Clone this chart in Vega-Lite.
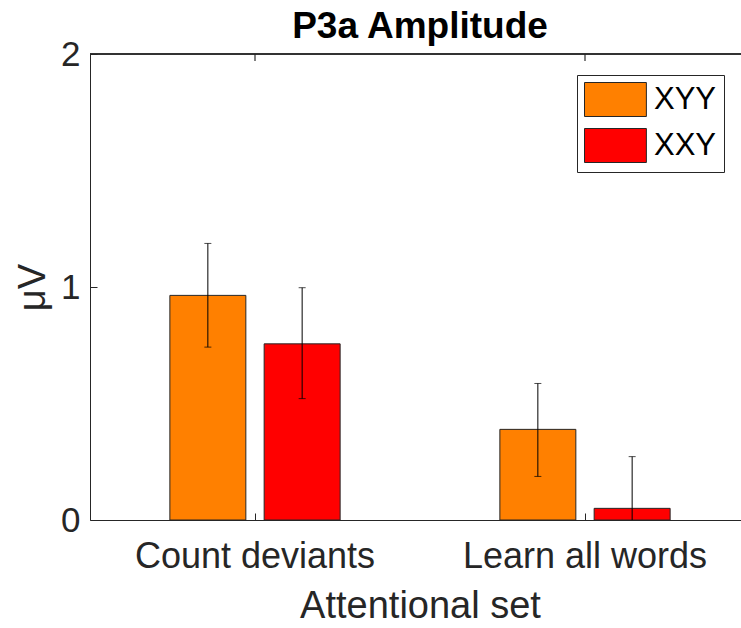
{
  "$schema": "https://vega.github.io/schema/vega-lite/v6.json",
  "width": 651,
  "height": 466,
  "autosize": "none",
  "padding": {"left": 90, "top": 54, "right": 0, "bottom": 108},
  "background": "white",
  "config": {
    "view": {"stroke": null},
    "font": "Liberation Sans",
    "axis": {
      "domainColor": "#262626",
      "tickColor": "#262626",
      "labelColor": "#262626",
      "titleColor": "#262626",
      "labelFont": "Liberation Sans",
      "titleFont": "Liberation Sans",
      "titleFontWeight": "normal",
      "labelLimit": 0,
      "labelOverlap": false,
      "labelFlush": false,
      "grid": false
    }
  },
  "title": {
    "text": "P3a Amplitude",
    "font": "Liberation Sans",
    "fontSize": 37,
    "fontWeight": "bold",
    "color": "#000000",
    "dx": 4.5,
    "offset": -9
  },
  "data": {
    "values": [
      {"set": "Count deviants", "group": "XYY", "value": 0.964, "lo": 0.742, "hi": 1.187},
      {"set": "Count deviants", "group": "XXY", "value": 0.756, "lo": 0.521, "hi": 0.997},
      {"set": "Learn all words", "group": "XYY", "value": 0.389, "lo": 0.187, "hi": 0.586},
      {"set": "Learn all words", "group": "XXY", "value": 0.050, "lo": -0.172, "hi": 0.272}
    ]
  },
  "layer": [
    {
      "mark": {"type": "bar", "stroke": "#262626", "strokeWidth": 1},
      "encoding": {
        "x": {
          "field": "set",
          "type": "nominal",
          "sort": null,
          "scale": {"range": [0, 660], "paddingInner": 0, "paddingOuter": 0},
          "axis": {
            "title": "Attentional set",
            "titleFontSize": 38,
            "titlePadding": 13,
            "labelFontSize": 36,
            "labelAngle": 0,
            "labelPadding": 26,
            "tickSize": -7,
            "domainWidth": 1
          }
        },
        "xOffset": {
          "field": "group",
          "type": "nominal",
          "sort": ["XYY", "XXY"],
          "scale": {"paddingInner": 0.194, "paddingOuter": 0.847}
        },
        "y": {
          "field": "value",
          "type": "quantitative",
          "scale": {"domain": [0, 2], "nice": false, "zero": true},
          "axis": {
            "title": "μV",
            "titleFontSize": 38,
            "titlePadding": 8,
            "values": [0, 1, 2],
            "format": ".0f",
            "labelFontSize": 35,
            "labelPadding": 17,
            "tickSize": -7,
            "domainWidth": 1
          }
        },
        "color": {
          "field": "group",
          "type": "nominal",
          "scale": {"domain": ["XYY", "XXY"], "range": ["#FF8000", "#FF0000"]},
          "legend": {
            "title": null,
            "orient": "none",
            "legendX": 487,
            "legendY": 21,
            "padding": 7,
            "strokeColor": "#262626",
            "fillColor": "#ffffff",
            "symbolType": "M-1,-1H2.64V1H-1Z",
            "symbolSize": 1156,
            "symbolStrokeColor": "#262626",
            "symbolStrokeWidth": 1,
            "symbolOpacity": 1,
            "labelFont": "Liberation Sans",
            "labelFontSize": 31,
            "labelColor": "#000000",
            "labelOffset": 35,
            "rowPadding": 7
          }
        }
      }
    },
    {
      "mark": {"type": "rule", "color": "#000000", "strokeWidth": 1, "clip": true},
      "encoding": {
        "x": {"field": "set", "type": "nominal", "sort": null},
        "xOffset": {"field": "group", "type": "nominal", "sort": ["XYY", "XXY"]},
        "y": {"field": "lo", "type": "quantitative"},
        "y2": {"field": "hi"}
      }
    },
    {
      "mark": {"type": "tick", "color": "#000000", "size": 7, "thickness": 1, "orient": "horizontal", "clip": true},
      "encoding": {
        "x": {"field": "set", "type": "nominal", "sort": null},
        "xOffset": {"field": "group", "type": "nominal", "sort": ["XYY", "XXY"]},
        "y": {"field": "hi", "type": "quantitative"}
      }
    },
    {
      "mark": {"type": "tick", "color": "#000000", "size": 7, "thickness": 1, "orient": "horizontal", "clip": true},
      "encoding": {
        "x": {"field": "set", "type": "nominal", "sort": null},
        "xOffset": {"field": "group", "type": "nominal", "sort": ["XYY", "XXY"]},
        "y": {"field": "lo", "type": "quantitative"}
      }
    },
    {
      "mark": {"type": "rule", "color": "#262626", "strokeWidth": 1},
      "encoding": {"y": {"datum": 2}}
    },
    {
      "mark": {"type": "tick", "color": "#262626", "size": 7, "thickness": 1, "orient": "vertical", "yOffset": 3.5},
      "encoding": {
        "x": {"field": "set", "type": "nominal", "sort": null},
        "y": {"datum": 2}
      }
    }
  ]
}
